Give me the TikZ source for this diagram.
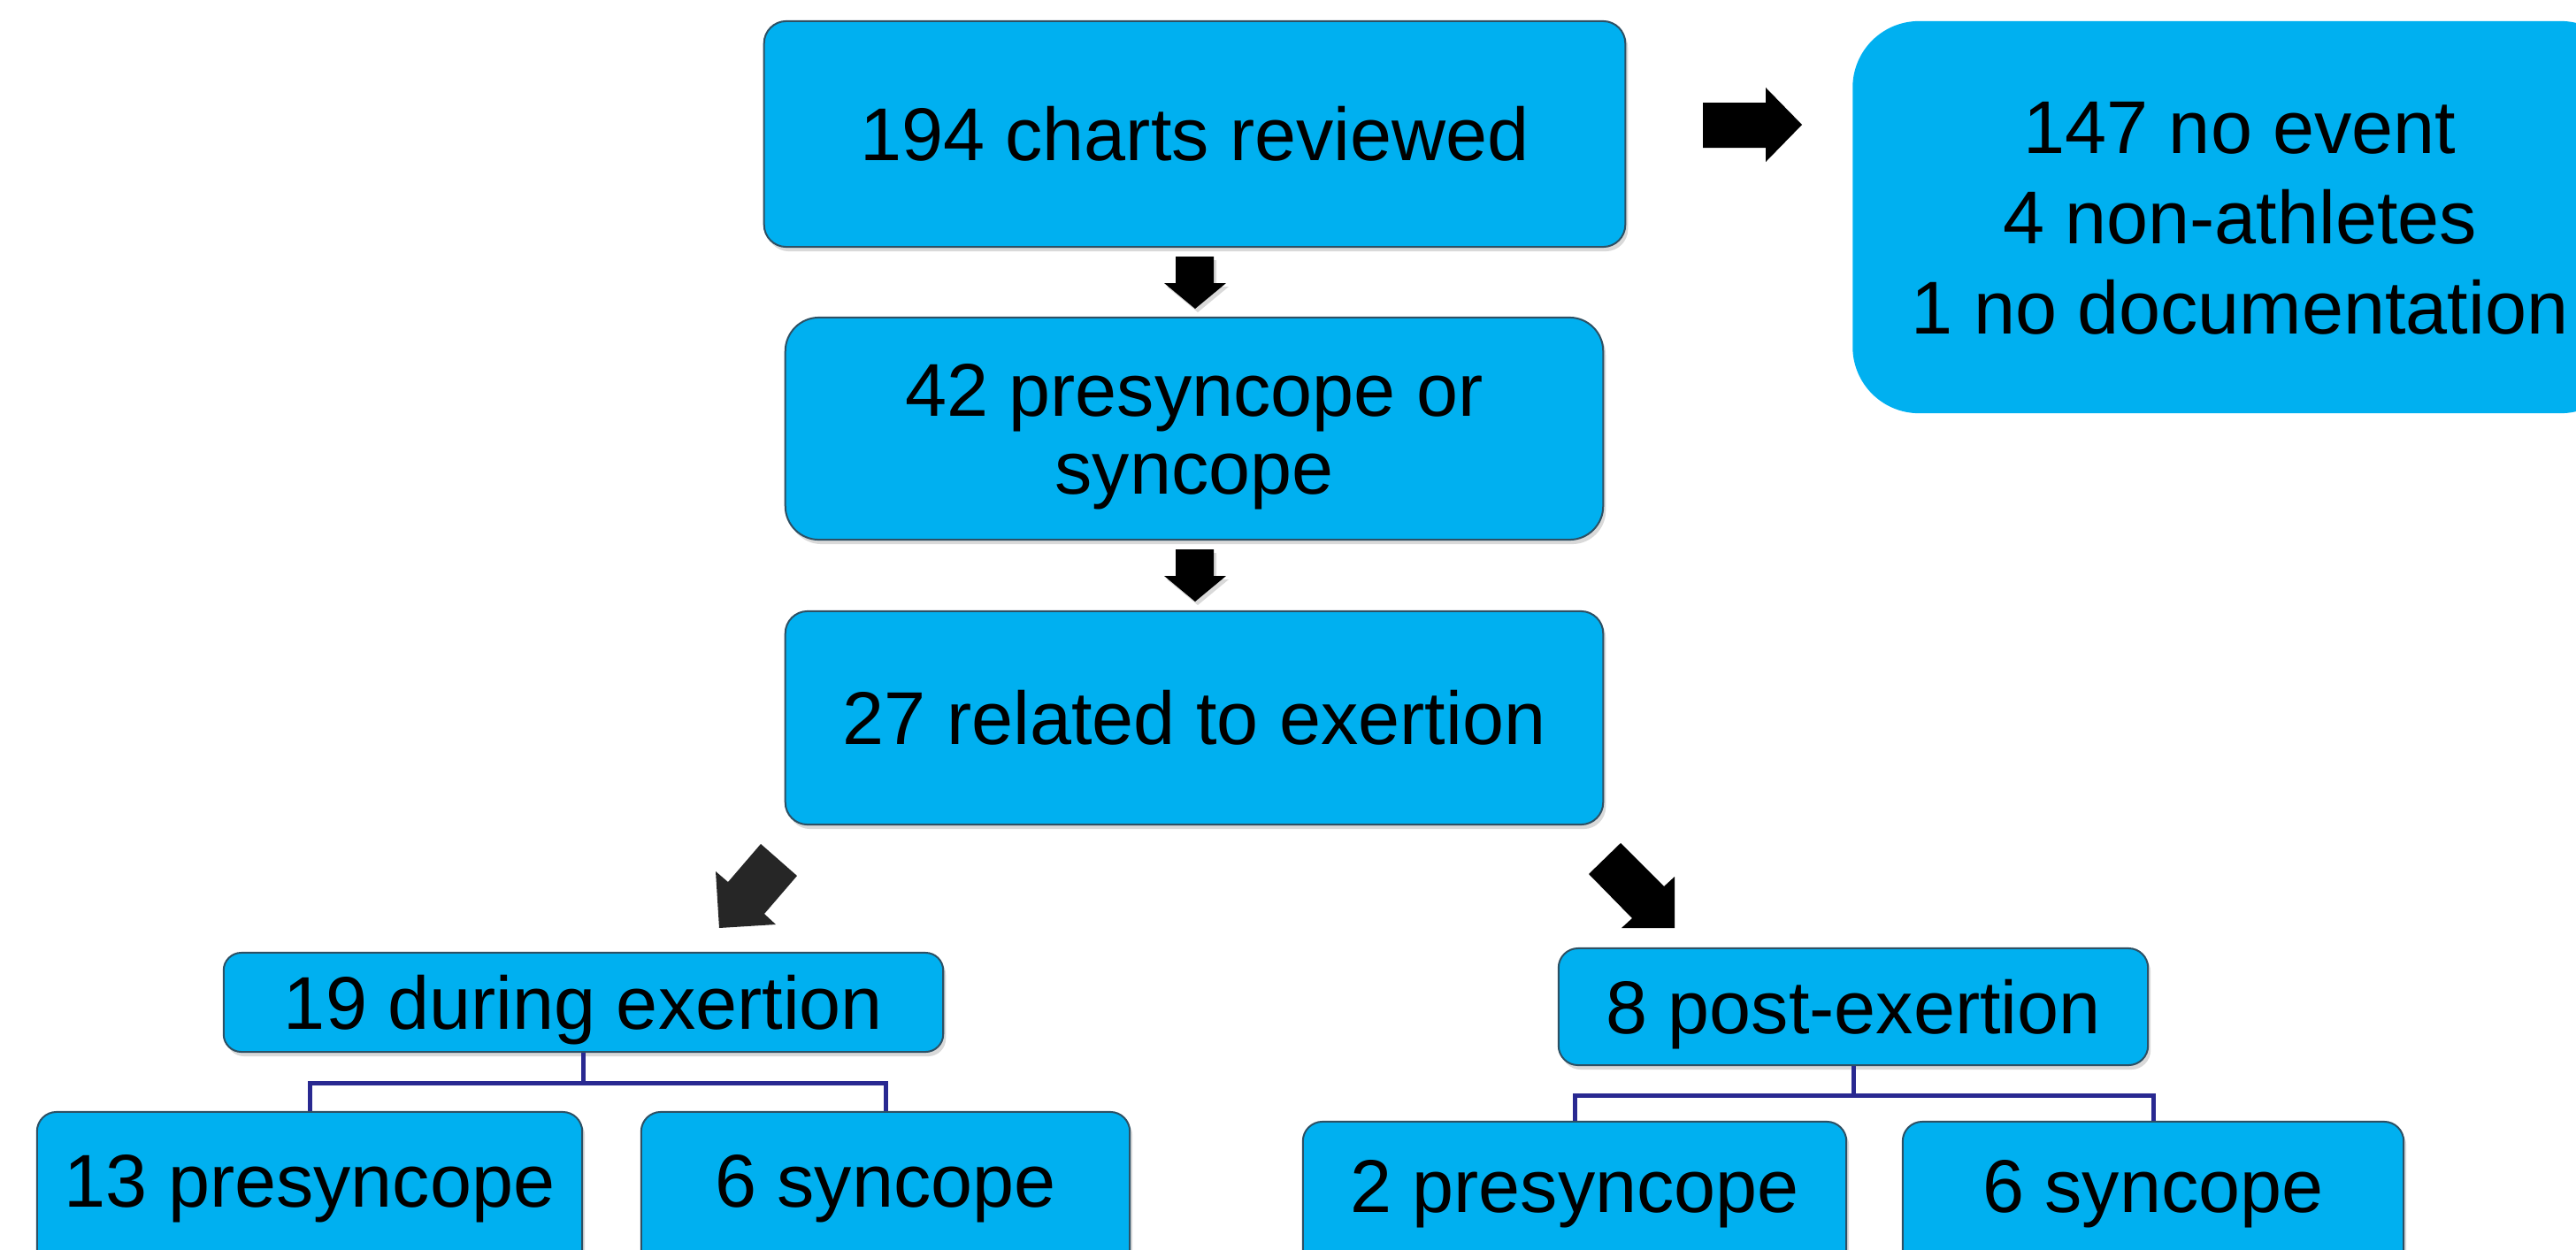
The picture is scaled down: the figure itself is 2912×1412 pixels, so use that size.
\documentclass[tikz,border=0pt]{standalone}
\usepackage{fontspec}
\setmainfont{Liberation Sans}
\usetikzlibrary{shadows}
\definecolor{boxblue}{HTML}{00B0F0}
\definecolor{boxedge}{RGB}{45,80,100}
\definecolor{connblue}{RGB}{41,41,145}
\definecolor{darkarrow}{HTML}{262626}
\tikzset{
  flowbox/.style={rectangle, fill=boxblue, draw=boxedge, line width=0.02cm, inner sep=0pt,
    text=black, font=\fontsize{24.05}{29}\selectfont, text height=0.6cm, text depth=0pt,
    drop shadow={shadow xshift=0.03cm, shadow yshift=-0.05cm, opacity=0.3}},
  sidebox/.style={rectangle, fill=boxblue, inner sep=0pt, text=black,
    font=\fontsize{24.05}{29}\selectfont, text depth=0pt},
  conn/.style={draw=connblue, line width=0.05cm},
  blockarrow/.style={fill=black},
  downarrow/.style={fill=black, drop shadow={shadow xshift=0.03cm, shadow yshift=-0.04cm, opacity=0.3}},
}
\begin{document}
\begin{tikzpicture}[x=0.01cm, y=-0.01cm]
\useasboundingbox (0,0) rectangle (2912,1412);
\clip (0,0) rectangle (2912,1412);

% top box
\node[flowbox, rounded corners=0.25cm, minimum width=9.73cm, minimum height=2.55cm] (A) at (1350.5,151.5) {194 charts reviewed};
% side box (exclusions)
\node[sidebox, rounded corners=0.75cm, minimum width=8.75cm, minimum height=4.43cm, text height=2.64cm] (R) at (2532,245.5)
  {\parbox[b]{8cm}{\centering\baselineskip=1.02cm 147 no event\\4 non-athletes\\1 no documentation}};
% second box
\node[flowbox, rounded corners=0.38cm, minimum width=9.24cm, minimum height=2.51cm, text height=1.48cm] (B) at (1350,484.5)
  {\parbox[b]{8.5cm}{\centering\baselineskip=0.88cm 42 presyncope or\\syncope}};
% third box
\node[flowbox, rounded corners=0.25cm, minimum width=9.24cm, minimum height=2.41cm] (C) at (1350,811.5) {27 related to exertion};
% branch boxes
\node[flowbox, rounded corners=0.2cm, minimum width=8.13cm, minimum height=1.12cm] (D) at (659.5,1133) {19 during exertion};
\node[flowbox, rounded corners=0.22cm, minimum width=6.66cm, minimum height=1.32cm] (G) at (2095,1138) {8 post-exertion};
% leaf boxes
\node[flowbox, rounded corners=0.22cm, minimum width=6.16cm, minimum height=1.83cm, text depth=0.28cm] (E) at (350,1348.5) {13 presyncope};
\node[flowbox, rounded corners=0.22cm, minimum width=5.52cm, minimum height=1.83cm, text depth=0.28cm] (F) at (1001,1348.5) {6 syncope};
\node[flowbox, rounded corners=0.22cm, minimum width=6.14cm, minimum height=1.72cm, text depth=0.27cm] (H) at (1780,1354) {2 presyncope};
\node[flowbox, rounded corners=0.22cm, minimum width=5.66cm, minimum height=1.72cm, text depth=0.27cm] (I) at (2434,1354) {6 syncope};

% block arrows
\fill[blockarrow] (1925,116) -- (1996,116) -- (1996,99) -- (2037,141) -- (1996,183) -- (1996,167) -- (1925,167) -- cycle;
\fill[downarrow] (1329,290) -- (1372,290) -- (1372,320) -- (1386,320) -- (1351,349) -- (1316,320) -- (1329,320) -- cycle;
\fill[downarrow] (1329,621) -- (1372,621) -- (1372,651) -- (1386,651) -- (1351,680) -- (1316,651) -- (1329,651) -- cycle;
\fill[darkarrow] (860,954) -- (901,990) -- (864,1033) -- (877,1045) -- (813,1049) -- (809,985) -- (823,997) -- cycle;
\fill[blockarrow] (1832,953) -- (1796,988) -- (1845,1038) -- (1833,1049) -- (1893,1049) -- (1893,991) -- (1881,1002) -- cycle;

% tree connectors
\draw[conn] (D.south) -- ++(0,34) coordinate (dj) -| (E.north);
\draw[conn] (dj) -| (F.north);
\draw[conn] (G.south) -- ++(0,33) coordinate (gj) -| (H.north);
\draw[conn] (gj) -| (I.north);
\end{tikzpicture}
\end{document}
